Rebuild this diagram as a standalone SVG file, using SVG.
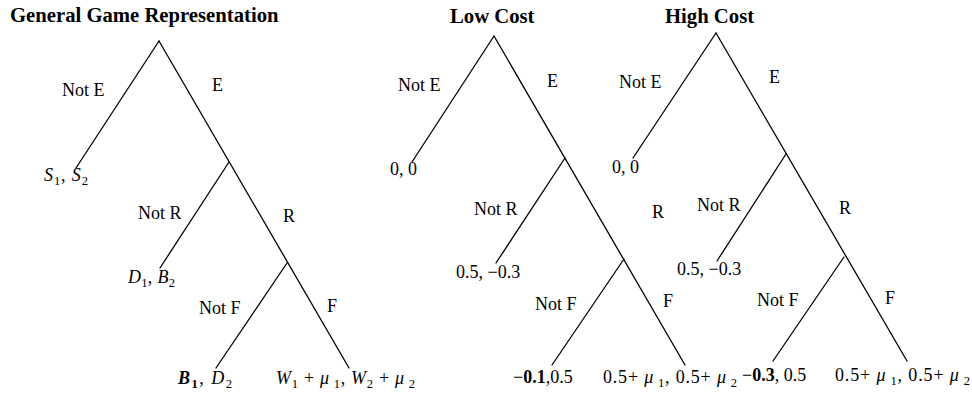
<svg xmlns="http://www.w3.org/2000/svg" width="972" height="393" viewBox="0 0 972 393">
<style>
.t{font-family:"Liberation Serif","Times New Roman",serif;font-size:18px;fill:#000}
.h{font-weight:bold;font-size:20.7px}
.i{font-style:italic}
.b{font-weight:bold}
.s{font-size:12.6px}
.e{stroke:#000;stroke-width:1.3;fill:none;stroke-linecap:round}
</style>
<rect width="972" height="393" fill="#fff"/>

<!-- Titles -->
<g id="title-general"><text class="t h" x="10" y="22">General Game Representation</text></g>
<g id="title-low"><text class="t h" x="450" y="23">Low Cost</text></g>
<g id="title-high"><text class="t h" x="665" y="23">High Cost</text></g>

<!-- Connectors -->
<g id="connectors">
  <!-- General tree -->
  <path class="e" d="M159,41 L349,368"/>
  <path class="e" d="M159,41 L76,168"/>
  <path class="e" d="M229,162 L160,268"/>
  <path class="e" d="M287,263 L216,368"/>
  <!-- Low cost tree -->
  <path class="e" d="M494,36 L685,365"/>
  <path class="e" d="M494,36 L412,162"/>
  <path class="e" d="M565,158 L496,263"/>
  <path class="e" d="M624,259 L552,365"/>
  <!-- High cost tree -->
  <path class="e" d="M716,33 L907,361"/>
  <path class="e" d="M716,33 L633,158"/>
  <path class="e" d="M786,154 L717,261"/>
  <path class="e" d="M844,257 L773,361"/>
  <!-- Edge labels -->
  <g id="edge-labels">
    <text class="t" x="62" y="96">Not E</text>
    <text class="t" x="212" y="91">E</text>
    <text class="t" x="138" y="219">Not R</text>
    <text class="t" x="283" y="222">R</text>
    <text class="t" x="199" y="314">Not F</text>
    <text class="t" x="327" y="312">F</text>

    <text class="t" x="398" y="91">Not E</text>
    <text class="t" x="547" y="87">E</text>
    <text class="t" x="474" y="215">Not R</text>
    <text class="t" x="652" y="218">R</text>
    <text class="t" x="535" y="310">Not F</text>
    <text class="t" x="663" y="307">F</text>

    <text class="t" x="619" y="88">Not E</text>
    <text class="t" x="769" y="83">E</text>
    <text class="t" x="697" y="211">Not R</text>
    <text class="t" x="839" y="214">R</text>
    <text class="t" x="757" y="306">Not F</text>
    <text class="t" x="885" y="304">F</text>
  </g>
</g>

<!-- General tree nodes -->
<g id="g-root"/>
<g id="g-leaf-notE"><text class="t" x="44" y="181" textLength="44" lengthAdjust="spacing"><tspan class="i">S</tspan><tspan class="s" dy="4">1</tspan><tspan dy="-4">, </tspan><tspan class="i">S</tspan><tspan class="s" dy="4">2</tspan></text></g>
<g id="g-leaf-notR"><text class="t" x="128" y="283" textLength="47" lengthAdjust="spacing"><tspan class="i">D</tspan><tspan class="s" dy="4">1</tspan><tspan dy="-4">, </tspan><tspan class="i">B</tspan><tspan class="s" dy="4">2</tspan></text></g>
<g id="g-leaf-notF"><text class="t" x="178" y="384" textLength="54" lengthAdjust="spacing"><tspan class="i b">B</tspan><tspan class="s b" dy="4">1</tspan><tspan dy="-4">, </tspan><tspan class="i">D</tspan><tspan class="s" dy="4">2</tspan></text></g>
<g id="g-leaf-F"><text class="t" x="276" y="384" textLength="139" lengthAdjust="spacing"><tspan class="i">W</tspan><tspan class="s" dy="4">1</tspan><tspan dy="-4"> + </tspan><tspan class="i">μ</tspan><tspan class="s" dy="4"> 1</tspan><tspan dy="-4">, </tspan><tspan class="i">W</tspan><tspan class="s" dy="4">2</tspan><tspan dy="-4"> + </tspan><tspan class="i">μ</tspan><tspan class="s" dy="4"> 2</tspan></text></g>

<!-- Low cost tree nodes -->
<g id="l-leaf-notE"><text class="t" x="390" y="175">0, 0</text></g>
<g id="l-leaf-notR"><text class="t" x="456" y="278">0.5, −0.3</text></g>
<g id="l-leaf-notF"><text class="t" x="513" y="383">−<tspan class="b">0.1</tspan>,0.5</text></g>
<g id="l-leaf-F"><text class="t" x="603" y="383" textLength="134" lengthAdjust="spacing">0.5+ <tspan class="i">μ</tspan><tspan class="s" dy="4"> 1</tspan><tspan dy="-4">, 0.5+ </tspan><tspan class="i">μ</tspan><tspan class="s" dy="4"> 2</tspan></text></g>

<!-- High cost tree nodes -->
<g id="h-leaf-notE"><text class="t" x="612" y="173">0, 0</text></g>
<g id="h-leaf-notR"><text class="t" x="677" y="275">0.5, −0.3</text></g>
<g id="h-leaf-notF"><text class="t" x="742" y="381">−<tspan class="b">0.3</tspan>, 0.5</text></g>
<g id="h-leaf-F"><text class="t" x="835" y="381" textLength="135" lengthAdjust="spacing">0.5+ <tspan class="i">μ</tspan><tspan class="s" dy="4"> 1</tspan><tspan dy="-4">, 0.5+ </tspan><tspan class="i">μ</tspan><tspan class="s" dy="4"> 2</tspan></text></g>
</svg>
